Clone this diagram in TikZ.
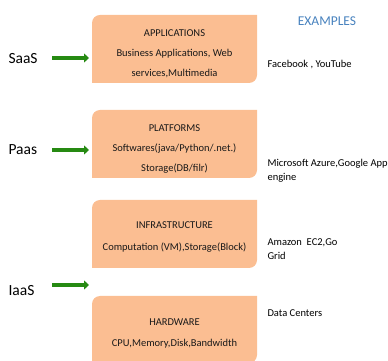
\documentclass[tikz,border=0pt]{standalone}
\usepackage{fontspec}
\setmainfont{Carlito}
\usetikzlibrary{arrows.meta}
\definecolor{boxfill}{RGB}{251,190,146}
\definecolor{arrgreen}{RGB}{38,138,18}
\definecolor{exblue}{RGB}{72,130,190}
\tikzset{
  boxtext/.style={font=\fontsize{10.5}{20}\selectfont, align=center, text=black!90},
  side/.style={font=\fontsize{15.5}{17}\selectfont, anchor=west},
  extext/.style={font=\fontsize{10.5}{14}\selectfont, anchor=north west, align=left},
  garrow/.style={draw=arrgreen, line width=4.5pt, -{Triangle[length=5pt,width=9pt]}},
}
\newcommand\diagbox[4]{% x1 y1 x2 y2 (y up)
  \fill[boxfill] (#1,#2) -- (#1,#4-8) arc[start angle=180,end angle=90,radius=8] -- (#3,#4) -- (#3,#2+8) arc[start angle=0,end angle=-90,radius=8] -- cycle;}
\begin{document}
\begin{tikzpicture}[x=1pt,y=1pt]
\useasboundingbox (0,0) rectangle (388,361);
% boxes (pixel y flipped: y = 361 - py)
\diagbox{92}{278}{257}{346}
\diagbox{92}{183}{257}{251}
\diagbox{92}{93}{257}{161}
\diagbox{92}{-2}{257}{65}
\node[boxtext] (app) at (174.5,307) {APPLICATIONS\\Business Applications, Web\\services,Multimedia};
\node[boxtext] (plat) at (174.5,212) {PLATFORMS\\Softwares(java/Python/.net.)\\Storage(DB/filr)};
\node[boxtext, font=\fontsize{10.5}{22}\selectfont] (infra) at (174.5,124) {INFRASTRUCTURE\\Computation (VM),Storage(Block)};
\node[boxtext, font=\fontsize{10.5}{21}\selectfont] (hw) at (174.5,28) {HARDWARE\\CPU,Memory,Disk,Bandwidth};
% side labels
\node[side] (saas) at (5,302) {SaaS};
\node[side] (paas) at (5,211) {Paas};
\node[side] (iaas) at (5,70) {IaaS};
\coordinate (sa1) at (52,303);
\coordinate (sa2) at (89,303);
\coordinate (pa1) at (52,211);
\coordinate (pa2) at (89,211);
\coordinate (ia1) at (52,76);
\coordinate (ia2) at (89,76);
\draw[garrow] (sa1) -- (sa2);
\draw[garrow] (pa1) -- (pa2);
\draw[garrow] (ia1) -- (ia2);
% examples
\node[font=\fontsize{13.5}{15}\selectfont, text=exblue] (ex) at (327,340) {EXAMPLES};
\node[extext] (fb) at (264,304) {Facebook , YouTube};
\node[extext] (ms) at (264,205) {Microsoft Azure,Google App\\engine};
\node[extext] (am) at (264,126) {Amazon\ \ EC2,Go\\Grid};
\node[extext] (dc) at (264,55) {Data Centers};
\end{tikzpicture}
\end{document}
